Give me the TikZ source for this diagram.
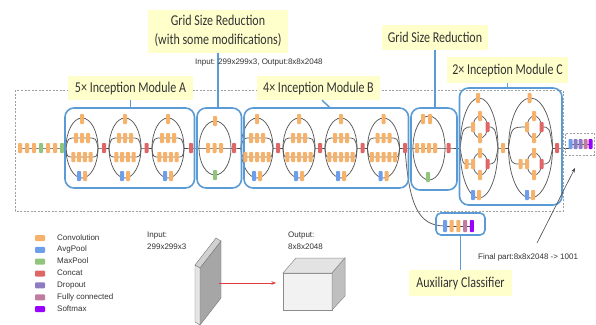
\documentclass[tikz,border=0pt]{standalone}
\usepackage{fontspec}
\usepackage{graphicx}
\usetikzlibrary{backgrounds,arrows.meta}
\newfontfamily\tagfamily{Carlito}
\newfontfamily\smallfamily{Liberation Sans}

\definecolor{cconv}{HTML}{F6B26B}
\definecolor{cavg}{HTML}{6D9EEB}
\definecolor{cmax}{HTML}{93C47D}
\definecolor{ccat}{HTML}{E06666}
\definecolor{cdrop}{HTML}{8E7CC3}
\definecolor{cfc}{HTML}{C27BA0}
\definecolor{csoft}{HTML}{9900FF}
\definecolor{boxblue}{HTML}{5B9BD5}
\definecolor{tagyellow}{HTML}{FFFFCC}
\definecolor{linkgray}{HTML}{484848}
\definecolor{arcgray}{HTML}{5A5A5A}
\definecolor{framegray}{HTML}{A0A0A0}
\definecolor{txtdark}{HTML}{333333}
\definecolor{txtgray}{HTML}{333333}
\definecolor{arrowred}{HTML}{E03A3A}

\newcommand\tallbox[1]{\scalebox{1}[1.25]{#1}}

% Inception module of type A or B: four branches inside an ellipse
% #1 name, #2 centre x, #3 number of blocks in the third branch
\newcommand\modAB[3]{%
  \coordinate (#1L) at (#2-16,148);
  \coordinate (#1R) at (#2+16,148);
  \node[conv] (#1a) at (#2,119) {};
  \foreach \k in {1,2,3} \node[conv] (#1b\k) at ({#2+(\k-2)*6},138) {};
  \foreach \k in {1,...,#3} \node[conv] (#1c\k) at ({#2+(\k-(#3+1)/2)*5.8},157) {};
  \node[avg] (#1d1) at (#2-3,176) {};
  \node[conv] (#1d2) at (#2+3,176) {};
  \begin{scope}[on background layer]
    \draw[arcline] (#2,148) ellipse [x radius=16pt, y radius=30pt];
    \draw[arcline] (#1L) .. controls (#2-14,138) .. (#1b1.center) -- (#1b3.center) .. controls (#2+14,138) .. (#1R);
    \draw[arcline] (#1L) .. controls (#2-15,157) .. (#1c1.center) -- (#1c#3.center) .. controls (#2+15,157) .. (#1R);
  \end{scope}
}

% Inception module of type C with its split branches
% #1 name, #2 centre x, #3 half width, #4 x of the split groups
\newcommand\modC[4]{%
  \coordinate (#1L) at (#2-#3,148);
  \coordinate (#1R) at (#2+#3,148);
  \node[conv] (#1a) at (#2-1,98) {};
  \node[conv] (#1u0) at (#4-7,127) {};
  \node[conv] (#1u1) at (#4,116) {};
  \node[conv] (#1u2) at (#4,138) {};
  \node[cat]  (#1u3) at (#4+7.5,127) {};
  \node[conv] (#1v0) at (#4-13.5,164) {};
  \node[conv] (#1v1) at (#4-7,164) {};
  \node[conv] (#1v2) at (#4,153) {};
  \node[conv] (#1v3) at (#4,175) {};
  \node[cat]  (#1v4) at (#4+7.5,164) {};
  \node[avg]  (#1d1) at (#4-7,195) {};
  \node[conv] (#1d2) at (#4-1,195) {};
  \begin{scope}[on background layer]
    \draw[arcline] (#2,148) ellipse [x radius=#3pt, y radius=50pt];
    \draw[arcline] (#4+0.25,127) ellipse [x radius=7.25pt, y radius=11pt];
    \draw[arcline] (#4+0.25,164) ellipse [x radius=7.25pt, y radius=11pt];
    \draw[arcline] (#1L) .. controls (#2-#3+3,127) .. (#1u0.center);
    \draw[arcline] (#1u3.center) .. controls (#2+#3-3,127) .. (#1R);
    \draw[arcline] (#1L) .. controls (#2-#3+3,164) .. (#1v0.center) -- (#1v1.center);
    \draw[arcline] (#1v4.center) .. controls (#2+#3-3,164) .. (#1R);
  \end{scope}
}

\begin{document}
\begin{tikzpicture}[x=1pt,y=-1pt,
  blk/.style={fill=#1,draw=none,minimum width=4pt,minimum height=10pt,inner sep=0pt,outer sep=0pt,rounded corners=0.8pt},
  conv/.style={blk=cconv}, avg/.style={blk=cavg}, maxp/.style={blk=cmax}, cat/.style={blk=ccat},
  link/.style={draw=linkgray,line width=0.8pt},
  arcline/.style={draw=arcgray,line width=0.75pt},
  modbox/.style={draw=boxblue,line width=1.6pt,rounded corners=9pt,inner sep=0pt,outer sep=0pt},
  frame/.style={draw=framegray,line width=0.6pt,dash pattern=on 2pt off 1.5pt},
  tag/.style={fill=tagyellow,text=txtdark,font=\tagfamily\fontsize{12}{14.4}\selectfont,inner sep=0pt,align=center},
  lead/.style={draw=boxblue,line width=1.4pt},
  small/.style={font=\smallfamily\fontsize{8}{12}\selectfont,text=txtgray,inner sep=0pt,align=left},
  swatch/.style={fill=#1,draw=none,minimum width=10pt,minimum height=6pt,inner sep=0pt,rounded corners=1pt},
  tip/.style={-{Stealth[length=4.5pt,width=3.5pt]}}
]
\useasboundingbox (0,0) rectangle (596,324);
\begin{scope}[on background layer]
  \fill[white] (0,0) rectangle (596,324);
\end{scope}

% dashed frame round the whole network
\draw[frame] (15,90) rectangle (563,211);

% blue frames of the module groups
\node[modbox,minimum width=129.5pt,minimum height=80pt] (Abox) at (129.75,148) {};
\node[modbox,minimum width=44.5pt,minimum height=80pt] (G1box) at (219.25,148) {};
\node[modbox,minimum width=164.5pt,minimum height=80pt] (Bbox) at (326.25,148) {};
\node[modbox,minimum width=46pt,minimum height=82pt] (G2box) at (434,149) {};
\node[modbox,minimum width=102.5pt,minimum height=117pt] (Cbox) at (510.75,146.5) {};
\node[modbox,rounded corners=5pt,minimum width=49pt,minimum height=22pt] (auxbox) at (460.5,224) {};
\node[frame,minimum width=29pt,minimum height=22pt,inner sep=0pt] (finbox) at (579.5,144) {};

% stem
\foreach \c [count=\k] in {cconv,cconv,cconv,cmax,cconv,cconv,cmax}
  \node[blk=\c] (s\k) at ({20+(\k-1)*7},148) {};

% 5x Inception module A
\modAB{A1}{82}{4}
\modAB{A2}{125}{4}
\modAB{A3}{168}{4}
\node[cat] (cA1) at (104,148) {};
\node[cat] (cA2) at (146.5,148) {};
\node[cat] (cA3) at (191,148) {};

% first grid size reduction
\coordinate (G1L) at (199,148);
\coordinate (G1R) at (231,148);
\node[conv] (G1a) at (215,121) {};
\foreach \k in {1,2,3} \node[conv] (G1b\k) at ({208+(\k-1)*6.5},148) {};
\node[maxp] (G1c) at (215,175) {};
\node[cat] (cG1) at (234,148) {};
\begin{scope}[on background layer]
  \draw[arcline] (215,148) ellipse [x radius=16pt, y radius=27pt];
\end{scope}

% 4x Inception module B
\modAB{B1}{257}{5}
\modAB{B2}{299}{5}
\modAB{B3}{341}{5}
\modAB{B4}{383.5}{5}
\node[cat] (cB1) at (278,148) {};
\node[cat] (cB2) at (320,148) {};
\node[cat] (cB3) at (362.5,148) {};
\node[cat] (cB4) at (405,148) {};

% second grid size reduction
\coordinate (G2L) at (413,148);
\coordinate (G2R) at (445,148);
\node[conv] (G2a1) at (423,119) {};
\node[conv] (G2a2) at (430,119) {};
\foreach \k in {1,2,3,4} \node[conv] (G2b\k) at ({417+(\k-1)*6},148) {};
\node[maxp] (G2c) at (428,177) {};
\node[cat] (cG2) at (448.5,148) {};
\begin{scope}[on background layer]
  \draw[arcline] (429,148) ellipse [x radius=16pt, y radius=32pt];
\end{scope}

% 2x Inception module C
\modC{C1}{479}{19}{480}
\node[conv] (cm) at (503,148) {};
\modC{C2}{530.5}{22}{534}
\node[cat] (cC) at (557,148) {};

% final part
\foreach \c [count=\k] in {cavg,cdrop,cdrop,cfc,csoft}
  \node[blk=\c] (f\k) at ({570.5+(\k-1)*5},144) {};

% auxiliary classifier
\foreach \c [count=\k] in {cavg,cconv,cconv,cfc,csoft}
  \node[blk=\c,minimum height=12pt] (x\k) at ({445+(\k-1)*6.7},226) {};

% connections along the network
\begin{scope}[on background layer]
  \draw[link] (s1.center) -- (s7.center) -- (A1L);
  \draw[link] (A1R) -- (cA1.center) -- (A2L);
  \draw[link] (A2R) -- (cA2.center) -- (A3L);
  \draw[link] (A3R) -- (cA3.center) -- (G1L) -- (G1R) -- (cG1.center) -- (B1L);
  \draw[link] (B1R) -- (cB1.center) -- (B2L);
  \draw[link] (B2R) -- (cB2.center) -- (B3L);
  \draw[link] (B3R) -- (cB3.center) -- (B4L);
  \draw[link] (B4R) -- (cB4.center) -- (G2L) -- (G2R) -- (cG2.center) -- (C1L);
  \draw[link] (C1R) -- (cm.center) -- (C2L);
  \draw[link] (C2R) -- (cC.center) -- (f1.center |- cC.center) -- (f1.center) -- (f5.center);
  \draw[link] (x1.center) -- (x5.center);
  \draw[arcline] (cB4.center) .. controls (409,205) and (418,226) .. (x1.center);
\end{scope}

% yellow labels
\node[tag,minimum width=140pt,minimum height=43pt] (tG1) at (218,31.5)
  {\tallbox{\begin{tabular}{@{}c@{}}Grid Size Reduction\\[1pt](with some modifications)\end{tabular}}};
\node[tag,minimum width=125pt,minimum height=24pt] (tA) at (130.5,88) {\tallbox{5× Inception Module A}};
\node[tag,minimum width=123pt,minimum height=24pt] (tB) at (318.5,88) {\tallbox{4× Inception Module B}};
\node[tag,minimum width=106pt,minimum height=25pt] (tG2) at (435,37.5) {\tallbox{Grid Size Reduction}};
\node[tag,minimum width=121pt,minimum height=26pt] (tC) at (507.5,70) {\tallbox{2× Inception Module C}};
\node[tag,minimum width=103pt,minimum height=26pt] (tX) at (460.5,283) {\tallbox{Auxiliary Classifier}};

% leaders from labels to their groups
\draw[lead] (tG1.south) -- (tG1.south |- G1box.north);
\draw[lead] (tA.south) -- (tA.south |- Abox.north);
\draw[lead] ([xshift=3.5pt]tB.south) -- ([xshift=4pt]Bbox.north);
\draw[lead] (tG2.south) -- (tG2.south |- G2box.north);
\draw[lead] (tC.south) -- (tC.south |- Cbox.north);
\draw[lead] (auxbox.south) -- (tX.north);

% sizes
\node[small,anchor=west] (io) at (195,63) {Input: 299x299x3, Output:8x8x2048};
\node[small,anchor=west] (fin) at (478,257) {Final part:8x8x2048 -> 1001};
\coordinate (finfrom) at (537,243);
\coordinate (finto) at (575,168);
\draw[tip,draw=linkgray,line width=0.6pt] (finfrom) -- (finto);

% legend
\foreach \c/\t [count=\k from 0] in {cconv/Convolution,cavg/AvgPool,cmax/MaxPool,ccat/Concat,cdrop/Dropout,cfc/Fully connected,csoft/Softmax}{
  \node[swatch=\c] (key\k) at (40,{238+\k*11.85}) {};
  \node[small,anchor=west,text height=5.8pt,text depth=1.6pt] (keytext\k) at (57,{238+\k*11.85}) {\t};
}

% input slab and output block
\node[small,anchor=north west] (intext) at (147,232) {Input:\\299x299x3};
\node[small,anchor=north west] (outtext) at (288,232) {Output:\\8x8x2048};
\filldraw[fill=black!35,draw=black!55,line width=0.4pt] (200,268) -- (221,241) -- (221,298) -- (200,325) -- cycle;
\filldraw[fill=black!10,draw=black!55,line width=0.4pt] (195,265) -- (200,268) -- (200,325) -- (195,322) -- cycle;
\filldraw[fill=black!18,draw=black!55,line width=0.4pt] (195,265) -- (216,238) -- (221,241) -- (200,268) -- cycle;
\filldraw[fill=black!5,draw=black!45,line width=0.5pt] (283,273) rectangle (332,310);
\filldraw[fill=black!11,draw=black!45,line width=0.5pt] (283,273) -- (296,258) -- (345,258) -- (332,273) -- cycle;
\filldraw[fill=black!25,draw=black!45,line width=0.5pt] (332,273) -- (345,258) -- (345,296) -- (332,310) -- cycle;
\coordinate (slabout) at (219,283);
\coordinate (blockin) at (276,283);
\draw[tip,draw=arrowred,line width=0.7pt] (slabout) -- (blockin);
\end{tikzpicture}
\end{document}
